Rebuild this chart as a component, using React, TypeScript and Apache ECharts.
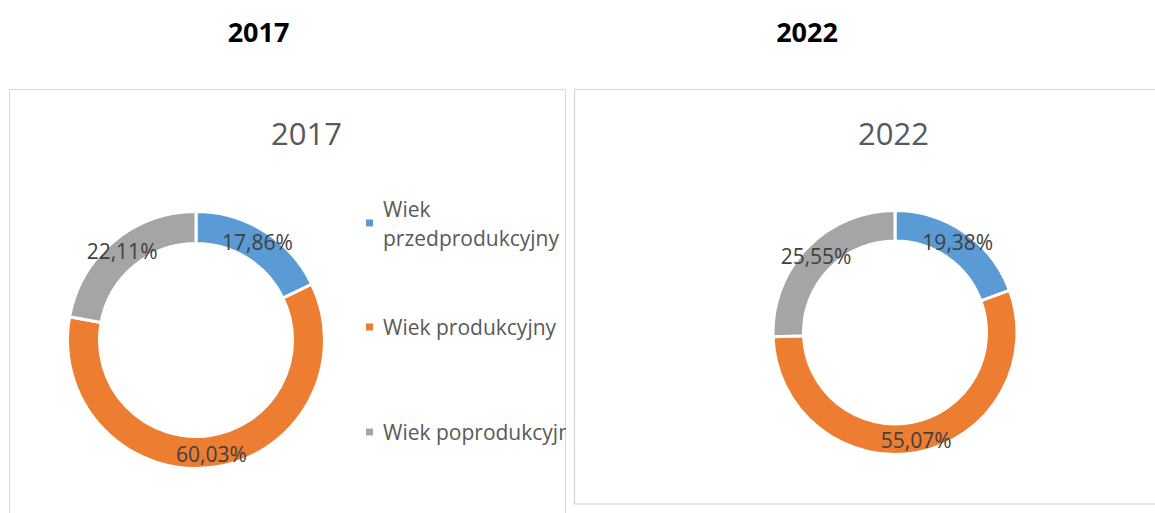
import React, { useEffect, useRef } from "react";
import * as echarts from "echarts";

const categories = ["Wiek przedprodukcyjny", "Wiek produkcyjny", "Wiek poprodukcyjny"];
const values2017 = [17.86, 60.03, 22.11];
const values2022 = [19.38, 55.07, 25.55];
const years = ["2017", "2022"];
const colors = ["#5B9BD5", "#ED7D31", "#A5A5A5"];

const FONT = '"Open Sans", "Liberation Sans", sans-serif';

const fmt = (p: any) => Number(p.value).toFixed(2).replace(".", ",") + "%";

function pieSeries(values: number[], center: number[], radius: number[]) {
  return {
    type: "pie",
    center,
    radius,
    startAngle: 90,
    clockwise: true,
    avoidLabelOverlap: false,
    silent: true,
    itemStyle: { borderColor: "#ffffff", borderWidth: 3 },
    label: {
      show: true,
      position: "inside",
      formatter: fmt,
      color: "#404040",
      fontFamily: FONT,
      fontSize: 21,
    },
    labelLine: { show: false },
    data: categories.map((c, i) => ({ name: c, value: values[i], itemStyle: { color: colors[i] } })),
  };
}

function textEl(text: string, x: number, y: number, font: string, fill: string) {
  return {
    type: "text",
    x,
    y,
    silent: true,
    style: {
      text,
      font,
      fill,
      textAlign: "center",
      textVerticalAlign: "middle",
      align: "center",
      verticalAlign: "middle",
    },
  };
}

function Chart({ option, style }: { option: any; style: React.CSSProperties }) {
  const ref = useRef<HTMLDivElement>(null);
  useEffect(() => {
    if (!ref.current) return;
    const chart = echarts.init(ref.current, undefined, { renderer: "svg" });
    chart.setOption(option);
    return () => chart.dispose();
  }, []);
  return <div ref={ref} style={style} />;
}

const legendText = {
  color: "#595959",
  fontFamily: FONT,
  fontSize: 21,
  lineHeight: 29,
};

const leftOption = {
  animation: false,
  color: colors,
  graphic: [
    {
      type: "rect",
      silent: true,
      shape: { x: 9.5, y: 89.5, width: 556, height: 500 },
      style: { fill: "none", stroke: "#d9d9d9", lineWidth: 1 },
    },
    textEl(years[0], 258.5, 31.5, `bold 27px ${FONT}`, "#000000"),
    textEl(years[0], 306.5, 132.5, `31px ${FONT}`, "#595959"),
  ],
  legend: [
    {
      data: [categories[0]],
      orient: "vertical",
      left: 364,
      top: 179.5,
      padding: 0,
      itemWidth: 9,
      itemHeight: 9,
      icon: "rect",
      selectedMode: false,
      formatter: (n: string) => n.replace(" ", "\n"),
      textStyle: { ...legendText, padding: [29, 0, 0, 4] },
    },
    {
      data: [categories[1]],
      orient: "vertical",
      left: 364,
      top: 312.5,
      padding: 0,
      itemWidth: 9,
      itemHeight: 9,
      icon: "rect",
      selectedMode: false,
      textStyle: { ...legendText, padding: [0, 0, 0, 4] },
    },
    {
      data: [categories[2]],
      orient: "vertical",
      left: 364,
      top: 417.5,
      padding: 0,
      itemWidth: 9,
      itemHeight: 9,
      icon: "rect",
      selectedMode: false,
      textStyle: { ...legendText, padding: [0, 0, 0, 4] },
    },
  ],
  series: [pieSeries(values2017, [196, 340], [96.5, 128.5])],
};

const rightOption = {
  animation: false,
  color: colors,
  graphic: [
    {
      type: "rect",
      silent: true,
      shape: { x: 8.5, y: 89.5, width: 700, height: 414.5 },
      style: { fill: "none", stroke: "#d4d4d4", lineWidth: 1.2 },
    },
    textEl(years[1], 241, 31.5, `bold 27px ${FONT}`, "#000000"),
    textEl(years[1], 327.5, 132.5, `31px ${FONT}`, "#595959"),
  ],
  series: [pieSeries(values2022, [329, 332.5], [91.5, 122])],
};

export default function App() {
  return (
    <div style={{ position: "absolute", left: 0, top: 0, width: 1155, height: 513, overflow: "hidden", background: "#fff" }}>
      <Chart option={leftOption} style={{ position: "absolute", left: 0, top: 0, width: 566, height: 513 }} />
      <Chart option={rightOption} style={{ position: "absolute", left: 566, top: 0, width: 589, height: 513 }} />
    </div>
  );
}
